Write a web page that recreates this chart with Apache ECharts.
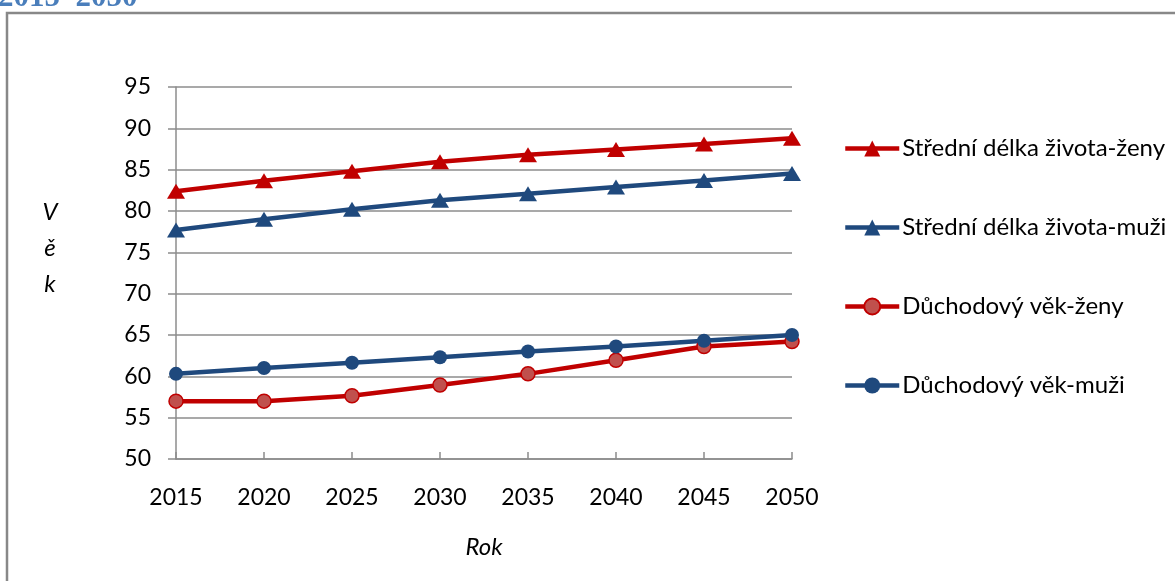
<!DOCTYPE html>
<html>
<head>
<meta charset="utf-8">
<style>
  html, body { margin: 0; padding: 0; background: #ffffff; }
  #chart { width: 1175px; height: 581px; }
</style>
<script src="https://cdn.jsdelivr.net/npm/echarts@6/dist/echarts.min.js"></script>
</head>
<body>
<div id="chart"></div>
<script>
// Projected life expectancy and retirement age, Czech Republic 2015–2050
const years = ['2015', '2020', '2025', '2030', '2035', '2040', '2045', '2050'];
const lifeWomen = [82.4, 83.65, 84.8, 85.95, 86.8, 87.45, 88.1, 88.8];
const lifeMen = [77.7, 79.0, 80.2, 81.3, 82.1, 82.9, 83.7, 84.55];
const retireWomen = [57.0, 57.0, 57.65, 58.95, 60.3, 61.95, 63.6, 64.2];
const retireMen = [60.3, 61.0, 61.65, 62.3, 63.0, 63.6, 64.3, 65.0];
const seriesNames = [
  'Střední délka života-ženy',
  'Střední délka života-muži',
  'Důchodový věk-ženy',
  'Důchodový věk-muži'
];
const titleText = '2015–2050';
const yAxisTitle = 'V\ně\nk';
const xAxisTitle = 'Rok';

const RED = '#C00000';
const BLUE = '#1F497D';
const GRID_GREY = '#8C8C8C';
const FONT = 'Lato, "Open Sans", sans-serif';

const chart = echarts.init(document.getElementById('chart'));

function lineSeries(name, data, color, symbol, size, fill, border) {
  return {
    name: name,
    type: 'line',
    data: data,
    symbol: symbol,
    symbolSize: size,
    showAllSymbol: true,
    lineStyle: { color: color, width: 4.5 },
    itemStyle: { color: fill || color, borderColor: border || color, borderWidth: border ? 1.5 : 0 },
    emphasis: { disabled: true },
    animation: false
  };
}

chart.setOption({
  animation: false,
  grid: { left: 176, right: 383, top: 87, bottom: 122 },
  graphic: [
    {
      type: 'rect',
      shape: { x: 7, y: 13, width: 1180, height: 600 },
      style: { fill: 'none', stroke: '#888888', lineWidth: 2.5 },
      silent: true
    },
    {
      type: 'text',
      x: -2,
      y: 13,
      style: {
        text: titleText,
        font: 'bold 31px "Liberation Serif", "DejaVu Serif", serif',
        fill: '#4A7EBB',
        verticalAlign: 'bottom'
      },
      silent: true
    },
    {
      type: 'text',
      x: 50,
      y: 194,
      style: {
        text: yAxisTitle,
        font: 'italic 24px ' + FONT,
        lineHeight: 36,
        align: 'center',
        fill: '#000000'
      },
      silent: true
    }
  ],
  legend: {
    orient: 'vertical',
    left: 838,
    top: 129,
    itemWidth: 54,
    itemHeight: 20,
    itemGap: 50,
    lineStyle: { width: 4.5 },
    textStyle: { fontFamily: FONT, fontSize: 24, color: '#000000', lineHeight: 29, padding: [0, 0, 0, -2] },
    selectedMode: false,
    data: seriesNames
  },
  xAxis: {
    type: 'category',
    data: years,
    boundaryGap: false,
    name: xAxisTitle,
    nameLocation: 'middle',
    nameGap: 76,
    nameTextStyle: { fontFamily: FONT, fontSize: 24, fontStyle: 'italic', color: '#000000' },
    axisLine: { lineStyle: { color: GRID_GREY, width: 1.5 } },
    axisTick: { inside: true, length: 7, lineStyle: { color: GRID_GREY, width: 1.5 } },
    axisLabel: { margin: 27, fontFamily: FONT, fontSize: 23, color: '#000000' },
    splitLine: { show: false }
  },
  yAxis: {
    type: 'value',
    min: 50,
    max: 95,
    interval: 5,
    axisLine: { show: true, lineStyle: { color: GRID_GREY, width: 1.5 } },
    axisTick: { show: true, length: 8, lineStyle: { color: GRID_GREY, width: 1.5 } },
    axisLabel: { margin: 25, fontFamily: FONT, fontSize: 23, color: '#000000' },
    splitLine: { show: true, lineStyle: { color: GRID_GREY, width: 1.5 } }
  },
  series: [
    lineSeries(seriesNames[0], lifeWomen, RED, 'triangle', [18, 15]),
    lineSeries(seriesNames[1], lifeMen, BLUE, 'triangle', [18, 15]),
    lineSeries(seriesNames[2], retireWomen, RED, 'circle', 14, '#C0504D', RED),
    lineSeries(seriesNames[3], retireMen, BLUE, 'circle', 14)
  ]
});
</script>
</body>
</html>
